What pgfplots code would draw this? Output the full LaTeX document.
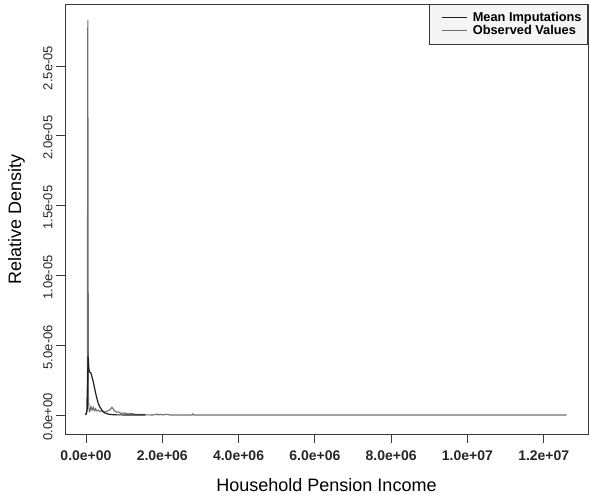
\documentclass[border=0pt]{standalone}
\usepackage{pgfplots}
\pgfplotsset{compat=1.18}
\usepackage{fontspec}
\setmainfont{Liberation Sans}
\definecolor{obs}{HTML}{6E6E6E}
\definecolor{imp}{HTML}{1E1E1E}
\definecolor{boxc}{HTML}{3A3A3A}
\begin{document}
\begin{tikzpicture}
\useasboundingbox (-65pt,-61pt) rectangle (525pt,434pt);
\begin{axis}[
  scale only axis,
  width=523pt, height=430pt,
  xmin=-5.5e5, xmax=1.316e7,
  ymin=-1.36e-6, ymax=2.944e-5,
  axis line style={boxc, line width=0.9pt},
  tick style={boxc, line width=0.8pt},
  tick align=outside,
  major tick length=9pt,
  xtick pos=left, ytick pos=left,
  xtick={0,2e6,4e6,6e6,8e6,1e7,1.2e7},
  xticklabels={0.0e+00,2.0e+06,4.0e+06,6.0e+06,8.0e+06,1.0e+07,1.2e+07},
  ytick={0,5e-6,1e-5,1.5e-5,2e-5,2.5e-5},
  yticklabels={0.0e+00,5.0e-06,1.0e-05,1.5e-05,2.0e-05,2.5e-05},
  scaled x ticks=false, scaled y ticks=false,
  xticklabel style={font=\fontsize{14}{16}\selectfont\bfseries, text=black!85, yshift=-4pt},
  yticklabel style={font=\fontsize{13}{15}\selectfont, rotate=90, anchor=south, text=black!85, xshift=-2pt},
  xlabel={Household Pension Income},
  ylabel={Relative Density},
  xlabel style={font=\fontsize{18}{20}\selectfont, at={(axis description cs:0.5,-0.1186)}, anchor=center},
  ylabel style={font=\fontsize{18}{20}\selectfont, at={(axis description cs:-0.093,0.5)}, anchor=center, rotate=0},
  legend style={at={(rel axis cs:1,1)}, anchor=north east, draw=boxc, fill=black!4,
    line width=0.8pt, font=\fontsize{12.8}{13}\selectfont\bfseries,
    inner xsep=1pt, inner ysep=7pt, row sep=0pt,
    nodes={inner xsep=5pt, inner ysep=1pt}},
  legend cell align=left,
  legend image code/.code={\path (-11pt,0pt); \draw[#1] (0pt,0pt) -- (25pt,0pt);},
]
\addlegendimage{imp, line width=1.2pt}
\addlegendimage{obs, line width=1.2pt}
\legend{Mean Imputations, Observed Values}
\addplot[obs, line width=1.1pt, forget plot] coordinates {
(-9e3,0) (2e4,0.3e-6) (3.5e4,1.9e-6) (4.8e4,2.83e-5) (6.2e4,1.5e-6) (7.5e4,0.6e-6)
(9e4,0.25e-6) (1.05e5,0.3e-6) (1.3e5,0.6e-6) (1.6e5,0.35e-6) (1.9e5,0.55e-6)
(2.2e5,0.3e-6) (2.5e5,0.45e-6) (2.8e5,0.3e-6) (3.2e5,0.35e-6) (3.6e5,0.25e-6)
(4.1e5,0.3e-6) (4.6e5,0.2e-6) (5.2e5,0.25e-6) (5.8e5,0.3e-6) (6.4e5,0.4e-6)
(6.8e5,0.55e-6) (7.1e5,0.45e-6) (7.5e5,0.3e-6) (8.0e5,0.2e-6) (8.5e5,0.22e-6)
(9.2e5,0.12e-6) (1.0e6,0.15e-6) (1.1e6,0.08e-6) (1.2e6,0.1e-6) (1.3e6,0.05e-6)
(1.45e6,0.04e-6) (1.6e6,0.01e-6) (1.75e6,0) (1.86e6,0.06e-6) (1.9e6,0)
(1.94e6,0.06e-6) (2.0e6,0) (2.12e6,0.05e-6) (2.2e6,0) (2.78e6,0) (2.8e6,0.08e-6)
(2.83e6,0) (1.26e7,0)
};
\addplot[imp, line width=1.2pt, forget plot] coordinates {
(-5e3,0) (3.0e4,0.3e-6) (5.5e4,4.2e-6) (8e4,3.2e-6) (1.05e5,3.05e-6) (1.3e5,3.0e-6)
(1.6e5,2.7e-6) (1.9e5,2.4e-6) (2.2e5,2.0e-6) (2.5e5,1.6e-6) (2.8e5,1.25e-6)
(3.2e5,0.85e-6) (3.6e5,0.6e-6) (4.1e5,0.38e-6) (4.6e5,0.22e-6) (5.0e5,0.14e-6)
(5.8e5,0.07e-6) (6.7e5,0.03e-6) (8e5,0.01e-6) (1.55e6,0)
};
\end{axis}
\end{tikzpicture}
\end{document}
